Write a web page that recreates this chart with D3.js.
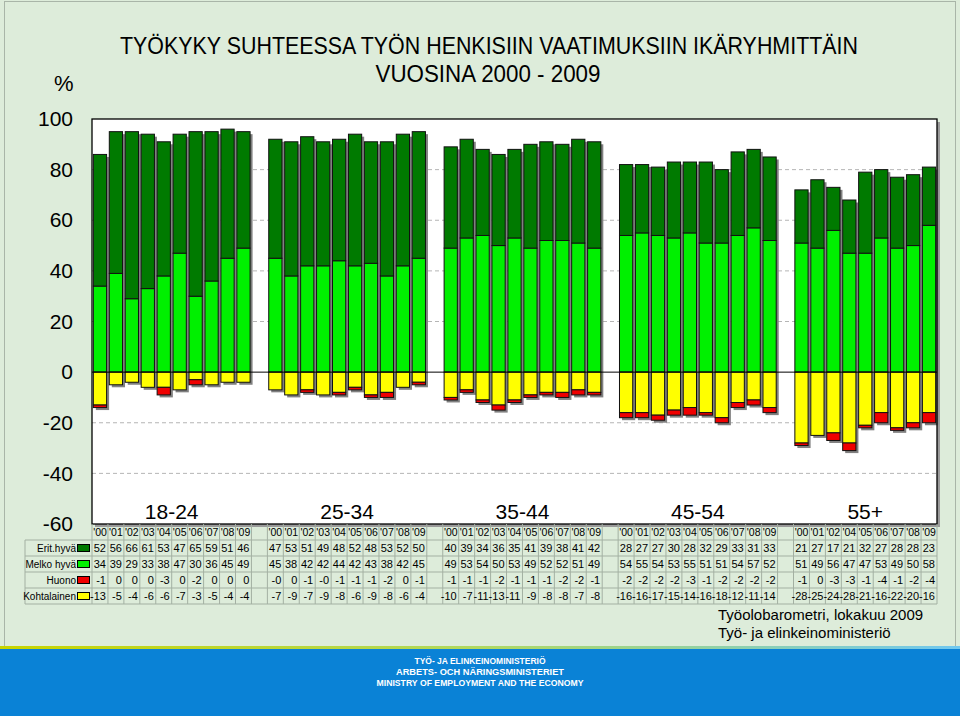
<!DOCTYPE html>
<html><head><meta charset="utf-8">
<script src="https://cdn.jsdelivr.net/npm/d3@7"></script>
<style>body{margin:0;background:#fff}svg{display:block}text{font-family:'Liberation Sans',Arial,sans-serif}</style>
</head><body><svg id="c" width="960" height="716"></svg>
<script>
const groups = ["18-24","25-34","35-44","45-54","55+"];
const yrs10 = ["'00","'01","'02","'03","'04","'05","'06","'07","'08","'09"];
const yrs55 = ["'00","'01","'02","'04","'05","'06","'07","'08","'09"];
const years = [yrs10, yrs10, yrs10, yrs10, yrs55];
const seriesNames = ["Erit.hyvä","Melko hyvä","Huono","Kohtalainen"];
const eritHyva = [
 [52,56,66,61,53,47,65,59,51,46],
 [47,53,51,49,48,52,48,53,52,50],
 [40,39,34,36,35,41,39,38,41,42],
 [28,27,27,30,28,32,29,33,31,33],
 [21,27,17,21,32,27,28,28,23]
];
const melkoHyva = [
 [34,39,29,33,38,47,30,36,45,49],
 [45,38,42,42,44,42,43,38,42,45],
 [49,53,54,50,53,49,52,52,51,49],
 [54,55,54,53,55,51,51,54,57,52],
 [51,49,56,47,47,53,49,50,58]
];
const huono = [
 [-1,0,0,0,-3,0,-2,0,0,0],
 [-0,0,-1,-0,-1,-1,-1,-2,0,-1],
 [-1,-1,-1,-2,-1,-1,-1,-2,-2,-1],
 [-2,-2,-2,-2,-3,-1,-2,-2,-2,-2],
 [-1,0,-3,-3,-1,-4,-1,-2,-4]
];
const kohtalainen = [
 [-13,-5,-4,-6,-6,-7,-3,-5,-4,-4],
 [-7,-9,-7,-9,-8,-6,-9,-8,-6,-4],
 [-10,-7,-11,-13,-11,-9,-8,-8,-7,-8],
 [-16,-16,-17,-15,-14,-16,-18,-12,-11,-14],
 [-28,-25,-24,-28,-21,-16,-22,-20,-16]
];
const yTicks = [100,80,60,40,20,0,-20,-40,-60];
const colors = {"Erit.hyvä":"#007a00","Melko hyvä":"#00f000","Huono":"#f00000","Kohtalainen":"#ffff00"};

const cols = [];
groups.forEach((g,gi)=>{
  years[gi].forEach((yr,i)=>cols.push({key:g+"|"+yr,group:g,year:yr,
    "Erit.hyvä":eritHyva[gi][i],"Melko hyvä":melkoHyva[gi][i],"Huono":huono[gi][i],"Kohtalainen":kohtalainen[gi][i]}));
  if(gi<groups.length-1) cols.push({key:"gap"+gi,gap:true});
});
const data = cols.filter(d=>!d.gap);

const svg = d3.select("#c");
const L=92,R=937,T=119,B=524;
const x = d3.scaleBand().domain(cols.map(d=>d.key)).range([L,R]).paddingInner(0.17).paddingOuter(0.085);
const y = d3.scaleLinear().domain([-60,100]).range([B,T]);
const step = x.step(), off = step*x.paddingInner()/2;
const colLeft = k => x(k)-off;

// background
svg.append("rect").attr("x",0).attr("y",0).attr("width",960).attr("height",716).attr("fill","#ffffff");
svg.append("rect").attr("x",0).attr("y",0).attr("width",960).attr("height",648).attr("fill","#ddecda");
svg.append("rect").attr("x",4.5).attr("y",1.5).attr("width",951).attr("height",645).attr("fill","none").attr("stroke","#a9b5a8");

// plot area
svg.append("rect").attr("x",L+3).attr("y",T+3).attr("width",R-L).attr("height",B-T).attr("fill","#9a9a9a");
svg.append("rect").attr("x",L).attr("y",T).attr("width",R-L).attr("height",B-T).attr("fill","#fff");
svg.append("g").selectAll("line").data(yTicks.filter(v=>v!==100&&v!==-60&&v!==0)).join("line")
  .attr("x1",L).attr("x2",R).attr("y1",d=>y(d)).attr("y2",d=>y(d))
  .attr("stroke","#b5b5b5").attr("stroke-dasharray","4,3");

// bar shadows
const bw = x.bandwidth();
svg.append("g").selectAll("rect").data(data).join("rect")
  .attr("x",d=>x(d.key)+2.5).attr("width",bw)
  .attr("y",d=>y(d["Erit.hyvä"]+d["Melko hyvä"])+2.5)
  .attr("height",d=>y(d["Kohtalainen"]+d["Huono"])-y(d["Erit.hyvä"]+d["Melko hyvä"]))
  .attr("fill","#808080");

// segments
const segs = [];
data.forEach(d=>{
  const m=d["Melko hyvä"], e=d["Erit.hyvä"], k=d["Kohtalainen"], h=d["Huono"];
  segs.push({key:d.key,s:"Melko hyvä",y0:0,y1:m});
  segs.push({key:d.key,s:"Erit.hyvä",y0:m,y1:m+e});
  segs.push({key:d.key,s:"Kohtalainen",y0:0,y1:k});
  if(h!==0) segs.push({key:d.key,s:"Huono",y0:k,y1:k+h});
});
svg.append("g").selectAll("rect").data(segs).join("rect")
  .attr("x",d=>x(d.key)).attr("width",bw)
  .attr("y",d=>y(Math.max(d.y0,d.y1))).attr("height",d=>Math.abs(y(d.y0)-y(d.y1)))
  .attr("fill",d=>colors[d.s]).attr("stroke","#111").attr("stroke-width",1);

svg.append("line").attr("x1",L).attr("x2",R).attr("y1",y(0)).attr("y2",y(0)).attr("stroke","#000").attr("stroke-width",1);
svg.append("rect").attr("x",L).attr("y",T).attr("width",R-L).attr("height",B-T).attr("fill","none").attr("stroke","#000").attr("stroke-width",1.3);

// y axis
const ya = svg.append("g").attr("transform",`translate(${L},0)`)
  .call(d3.axisLeft(y).tickValues(yTicks).tickSize(0).tickPadding(19).tickFormat(d=>String(d)));
ya.select(".domain").remove();
ya.selectAll("text").attr("font-size",21).attr("fill","#000").style("font-family","'Liberation Sans',Arial,sans-serif");

// group labels
groups.forEach((g,gi)=>{
  const ks = years[gi].map(yr=>g+"|"+yr);
  const cx = (colLeft(ks[0]) + colLeft(ks[ks.length-1])+step)/2;
  svg.append("text").attr("x",cx).attr("y",519).attr("text-anchor","middle").attr("font-size",21).text(g);
});

// table
const rowTop = 540, rowH = 16;
const tbl = svg.append("g");
const gridC = "#a3b0a2";
tbl.selectAll("text.yr").data(data).join("text").attr("class","yr")
  .attr("x",d=>colLeft(d.key)+step/2).attr("y",536).attr("text-anchor","middle").attr("font-size",10.5).text(d=>d.year);
const bounds = cols.map(d=>colLeft(d.key)).concat([R]);
tbl.selectAll("line.v").data(bounds).join("line").attr("class","v")
  .attr("x1",d=>d).attr("x2",d=>d).attr("y1",B).attr("y2",rowTop+4*rowH).attr("stroke",gridC);
tbl.append("line").attr("x1",25).attr("x2",25).attr("y1",rowTop).attr("y2",rowTop+4*rowH).attr("stroke",gridC);
for(let r=0;r<=4;r++){
  tbl.append("line").attr("x1",25).attr("x2",R).attr("y1",rowTop+r*rowH).attr("y2",rowTop+r*rowH).attr("stroke",gridC);
}
const fmt = v => Object.is(v,-0) ? "-0" : String(v);
seriesNames.forEach((s,ri)=>{
  const cy = rowTop + ri*rowH + rowH/2;
  tbl.append("text").attr("x",76).attr("y",cy+3.8).attr("text-anchor","end").attr("font-size",10).text(s);
  tbl.append("rect").attr("x",77.5).attr("y",cy-3.5).attr("width",12).attr("height",7).attr("fill",colors[s]).attr("stroke","#000");
  tbl.selectAll(null).data(data).join("text")
    .attr("x",d=>colLeft(d.key)+step-2).attr("y",cy+4).attr("text-anchor","end").attr("font-size",11)
    .text(d=>fmt(d[s]));
});

// titles
svg.append("text").attr("x",489).attr("y",54).attr("text-anchor","middle").attr("font-size",24)
  .attr("textLength",738).attr("lengthAdjust","spacingAndGlyphs")
  .text("TYÖKYKY SUHTEESSA TYÖN HENKISIIN VAATIMUKSIIN IKÄRYHMITTÄIN");
svg.append("text").attr("x",488).attr("y",82).attr("text-anchor","middle").attr("font-size",24)
  .attr("textLength",225).attr("lengthAdjust","spacingAndGlyphs")
  .text("VUOSINA 2000 - 2009");
svg.append("text").attr("x",54).attr("y",91).attr("font-size",22).text("%");

svg.append("text").attr("x",718).attr("y",620).attr("font-size",15).text("Työolobarometri, lokakuu 2009");
svg.append("text").attr("x",718).attr("y",638).attr("font-size",15).text("Työ- ja elinkeinoministeriö");

// bottom band
const defs = svg.append("defs");
const lg = defs.append("linearGradient").attr("id","stripe");
lg.append("stop").attr("offset","0%").attr("stop-color","#c8d400");
lg.append("stop").attr("offset","50%").attr("stop-color","#b0d860");
lg.append("stop").attr("offset","100%").attr("stop-color","#70c8f0");
svg.append("rect").attr("x",0).attr("y",648).attr("width",960).attr("height",68).attr("fill","#0a82d6");
svg.append("rect").attr("x",0).attr("y",646).attr("width",960).attr("height",3).attr("fill","url(#stripe)");
const btxt = [["TYÖ- JA ELINKEINOMINISTERIÖ",664,131],["ARBETS- OCH NÄRINGSMINISTERIET",675,168],["MINISTRY OF EMPLOYMENT AND THE ECONOMY",686,207]];
btxt.forEach(([t,yy,w])=>{
  svg.append("text").attr("x",480).attr("y",yy).attr("text-anchor","middle").attr("font-size",9).attr("font-weight","bold")
    .attr("fill","#fff").attr("textLength",w).attr("lengthAdjust","spacingAndGlyphs").text(t);
});
</script></body></html>
